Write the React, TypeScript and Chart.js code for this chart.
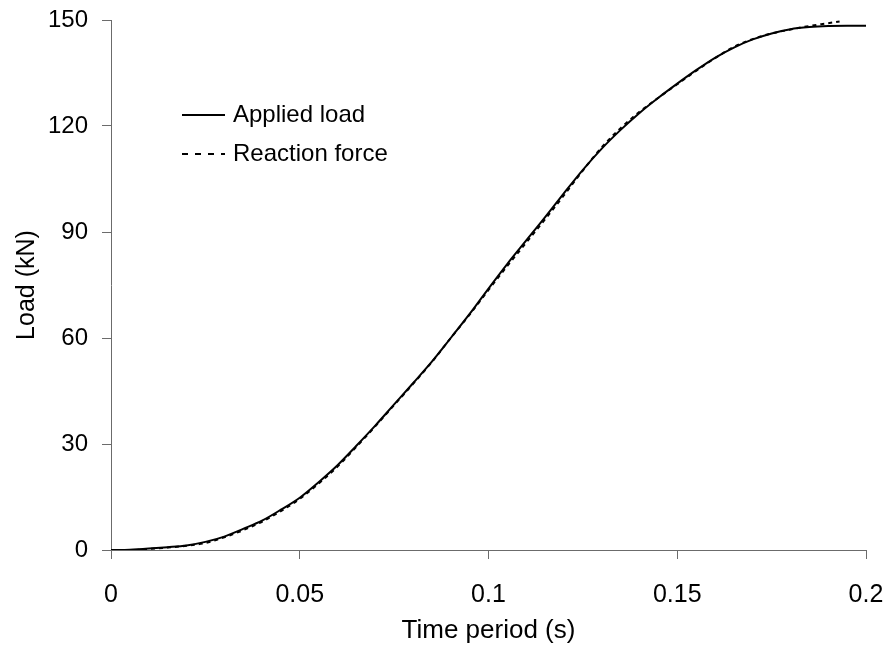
import React, { useEffect, useRef } from "react";
import { Chart, registerables } from "chart.js";

Chart.register(...registerables);

// Applied load history (time in s, load in kN)
const appliedTime = [
  0, 0.005, 0.01, 0.015, 0.02, 0.025, 0.03, 0.035, 0.04, 0.045, 0.05, 0.055, 0.06, 0.065, 0.07,
  0.075, 0.08, 0.085, 0.09, 0.095, 0.1, 0.105, 0.11, 0.115, 0.12, 0.125, 0.13, 0.135, 0.14,
  0.145, 0.15, 0.155, 0.16, 0.165, 0.17, 0.175, 0.18, 0.185, 0.19, 0.195, 0.2,
];
const appliedLoad = [
  0, 0.1, 0.4, 0.8, 1.3, 2.3, 3.8, 6.0, 8.3, 11.4, 14.8, 19.2, 24.0, 29.5, 35.2,
  41.2, 47.2, 53.3, 60.0, 66.8, 74.0, 81.0, 87.6, 94.2, 101.0, 107.6, 113.6, 118.9, 123.7,
  128.0, 132.0, 135.8, 139.3, 142.2, 144.5, 146.2, 147.4, 148.0, 148.3, 148.4, 148.4,
];

// Measured reaction force at the support
const reactionTime = [
  0, 0.005, 0.01, 0.015, 0.02, 0.025, 0.03, 0.035, 0.04, 0.045, 0.05, 0.055, 0.06, 0.065, 0.07,
  0.075, 0.08, 0.085, 0.09, 0.095, 0.1, 0.105, 0.11, 0.115, 0.12, 0.125, 0.13, 0.135, 0.14,
  0.145, 0.15, 0.155, 0.16, 0.165, 0.17, 0.175, 0.18, 0.185, 0.19, 0.193,
];
const reactionLoad = [
  0, 0.0, 0.3, 0.7, 1.2, 2.0, 3.6, 5.6, 8.0, 11.0, 14.5, 18.8, 23.6, 29.2, 35.0,
  41.0, 47.0, 53.2, 60.0, 66.6, 73.6, 80.4, 87.0, 93.6, 100.4, 107.4, 114.0, 119.4, 124.0,
  128.0, 131.8, 135.6, 139.2, 142.4, 144.6, 146.2, 147.3, 148.3, 149.1, 149.6,
];

const seriesNames = ["Applied load", "Reaction force"];

const FONT = "'Liberation Sans', Arial, sans-serif";
const AXIS_GREY = "#6b6b6b";

// In-plot legend: short line sample followed by the dataset label
const innerLegend = {
  id: "innerLegend",
  afterDraw(chart: any) {
    const { ctx, chartArea } = chart;
    const x0 = chartArea.left + 71;
    const x1 = x0 + 43;
    const rows = [chartArea.top + 95, chartArea.top + 134];
    ctx.save();
    chart.data.datasets.forEach((ds: any, i: number) => {
      const y = rows[i];
      ctx.beginPath();
      ctx.strokeStyle = ds.borderColor;
      ctx.lineWidth = 2;
      ctx.setLineDash(ds.borderDash && ds.borderDash.length ? [6, 7] : []);
      ctx.moveTo(x0, y);
      ctx.lineTo(x1, y);
      ctx.stroke();
      ctx.setLineDash([]);
      ctx.fillStyle = "#000";
      ctx.font = `24px ${FONT}`;
      ctx.textAlign = "left";
      ctx.textBaseline = "middle";
      ctx.fillText(ds.label, x1 + 8, y);
    });
    ctx.restore();
  },
};

function fmtTime(v: number) {
  return String(Number(v.toFixed(3)));
}

export default function App() {
  const ref = useRef<HTMLCanvasElement | null>(null);

  useEffect(() => {
    if (!ref.current) return;
    const chart = new Chart(ref.current, {
      type: "line",
      data: {
        datasets: [
          {
            label: seriesNames[0],
            data: appliedTime.map((t, i) => ({ x: t, y: appliedLoad[i] })),
            borderColor: "#000",
            borderWidth: 2,
            pointRadius: 0,
            cubicInterpolationMode: "monotone",
            fill: false,
          },
          {
            label: seriesNames[1],
            data: reactionTime.map((t, i) => ({ x: t, y: reactionLoad[i] })),
            borderColor: "#000",
            borderWidth: 2,
            borderDash: [4, 4],
            pointRadius: 0,
            cubicInterpolationMode: "monotone",
            fill: false,
          },
        ],
      },
      options: {
        responsive: false,
        animation: false,
        layout: { padding: { top: 20, right: 24, left: 0, bottom: 0 } },
        plugins: {
          legend: { display: false },
          tooltip: { enabled: false },
        },
        scales: {
          x: {
            type: "linear",
            min: 0,
            max: 0.2,
            afterFit: (s: any) => {
              s.height = 102;
              s.paddingLeft = 0;
              s.paddingRight = 0;
            },
            ticks: {
              stepSize: 0.05,
              color: "#000",
              padding: 21,
              maxRotation: 0,
              font: { family: FONT, size: 25 },
              callback: (v: any) => fmtTime(Number(v)),
            },
            grid: {
              drawOnChartArea: false,
              drawTicks: true,
              tickLength: 9,
              color: AXIS_GREY,
            },
            border: { display: true, color: AXIS_GREY, width: 1 },
            title: {
              display: true,
              text: "Time period (s)",
              color: "#000",
              font: { family: FONT, size: 26 },
              padding: { top: 0, bottom: 6 },
            },
          },
          y: {
            type: "linear",
            min: 0,
            max: 150,
            afterFit: (s: any) => {
              s.width = 111;
              s.paddingTop = 0;
              s.paddingBottom = 0;
            },
            ticks: {
              stepSize: 30,
              color: "#000",
              padding: 14,
              font: { family: FONT, size: 24 },
            },
            grid: {
              drawOnChartArea: false,
              drawTicks: true,
              tickLength: 9,
              color: AXIS_GREY,
            },
            border: { display: true, color: AXIS_GREY, width: 1 },
            title: {
              display: true,
              text: "Load (kN)",
              color: "#000",
              font: { family: FONT, size: 25 },
              padding: { top: 12, bottom: 0 },
            },
          },
        },
      },
      plugins: [innerLegend],
    } as any);
    return () => chart.destroy();
  }, []);

  return (
    <div style={{ position: "absolute", left: 0, top: 0, width: 890, height: 652, background: "#fff" }}>
      <canvas ref={ref} width={890} height={652} />
    </div>
  );
}
